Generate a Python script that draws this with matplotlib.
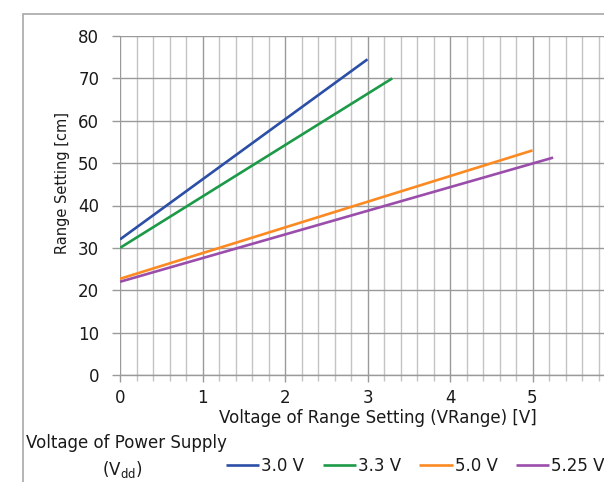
import numpy as np
import matplotlib
matplotlib.use("Agg")
import matplotlib.pyplot as plt
from matplotlib.patches import Rectangle
from matplotlib.ticker import MultipleLocator

# data (start and end of each straight line)
labels = ["3.0 V", "3.3 V", "5.0 V", "5.25 V"]
x_start = [0, 0, 0, 0]
x_end = [3.0, 3.3, 5.0, 5.25]
y_start = [32.0, 30.0, 22.7, 22.0]
y_end = [74.5, 70.0, 53.0, 51.3]
colors = ["#2b4ea6", "#1c9a47", "#fb8a23", "#9a4dab"]

x_ticks = [0, 1, 2, 3, 4, 5]
y_ticks = [0, 10, 20, 30, 40, 50, 60, 70, 80]

plt.rcParams["font.family"] = "DejaVu Sans"
fs = 12
fig = plt.figure(figsize=(6.04, 4.82), dpi=100)

# outer gray frame (cut off at the right and bottom like the reference)
top = 1 - 14 / 482
fig.patches.append(Rectangle((23 / 604, -0.2), 1.2, top + 0.2,
                             transform=fig.transFigure, fill=False,
                             edgecolor="#a8a8a8", lw=1.2, clip_on=False))

ax = fig.add_axes([120 / 604, 1 - 375 / 482, 1 - 120 / 604, 339 / 482])

for i in range(len(labels)):
    ax.plot([x_start[i], x_end[i]], [y_start[i], y_end[i]],
            color=colors[i], lw=1.9, label=labels[i], solid_capstyle="butt")

ax.set_xlim(0, 484 / 82.5)
ax.set_ylim(0, 80)
ax.set_xticks(x_ticks)
ax.set_yticks(y_ticks)
ax.xaxis.set_minor_locator(MultipleLocator(0.2))
ax.grid(which="major", axis="both", color="#9a9a9a", lw=1.0)
ax.grid(which="minor", axis="x", color="#c4c4c4", lw=1.0)
ax.set_axisbelow(True)
for s in ax.spines.values():
    s.set_visible(False)
ax.tick_params(axis="both", which="major", labelsize=fs, color="#9a9a9a",
               length=6, width=1.0, labelcolor="#1a1a1a")
ax.tick_params(axis="y", which="major", pad=9)
ax.tick_params(axis="x", which="minor", color="#c4c4c4", length=4, width=1.0)
ax.tick_params(axis="x", which="major", length=5, pad=5)
ax.axhline(0, color="#9a9a9a", lw=1.0, clip_on=False)

fig.text(62 / 604, 1 - 183 / 482, "Range Setting [cm]", rotation=90,
         ha="center", va="center", fontsize=10.5, color="#1a1a1a")
fig.text(378 / 604, 1 - 418 / 482, "Voltage of Range Setting (VRange) [V]",
         ha="center", va="center", fontsize=fs, color="#1a1a1a")

fig.text(26 / 604, 1 - 443 / 482, "Voltage of Power Supply",
         ha="left", va="center", fontsize=fs, color="#1a1a1a")
fig.text(122 / 604, 1 - 469 / 482, r"(V$_{\mathregular{dd}}$)",
         ha="center", va="center", fontsize=fs, color="#1a1a1a")

leg = ax.legend(loc="center left", bbox_to_anchor=(226 / 604, 1 - 466 / 482),
                bbox_transform=fig.transFigure, ncol=4, frameon=False,
                fontsize=fs, handlelength=2.0, handletextpad=0.12,
                columnspacing=1.1, borderpad=0, borderaxespad=0)
for t in leg.get_texts():
    t.set_color("#1a1a1a")

fig.savefig("out.png", dpi=100)
